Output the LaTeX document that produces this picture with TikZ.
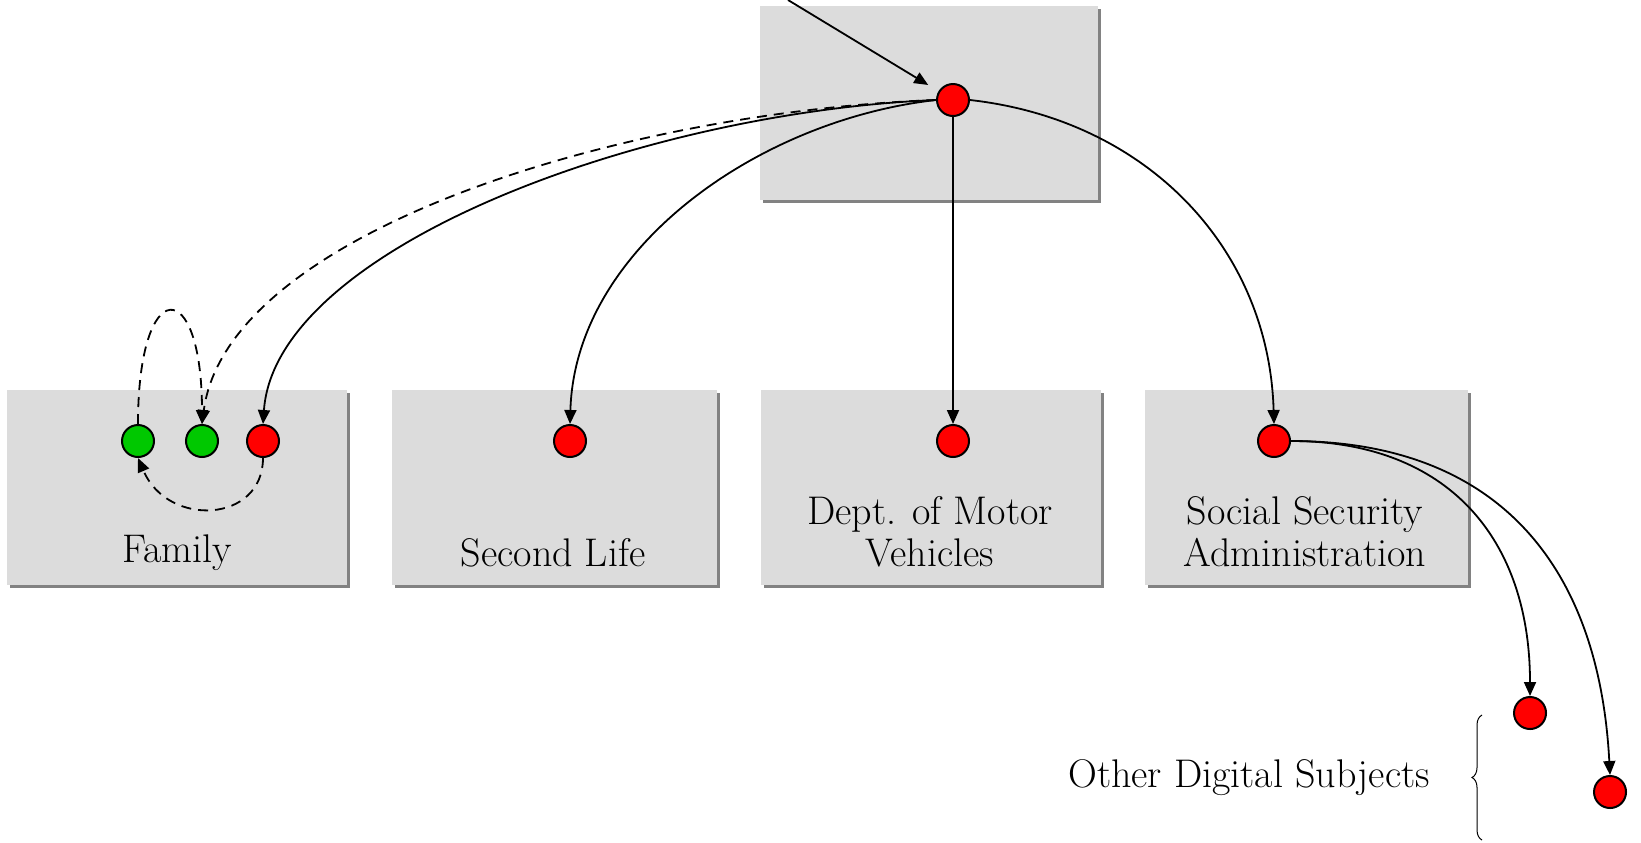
\documentclass[tikz,border=0pt]{standalone}
\usetikzlibrary{arrows.meta,shadows,decorations.pathreplacing}
\definecolor{boxgray}{RGB}{220,220,220}
\definecolor{shadowgray}{RGB}{130,130,130}
\definecolor{dotred}{RGB}{255,0,0}
\definecolor{dotgreen}{RGB}{0,200,0}
\begin{document}
\begin{tikzpicture}[x=0.5pt,y=-0.5pt,
  panel/.style={rectangle,fill=boxgray,draw=none,minimum height=97.5pt,
    drop shadow={shadow xshift=1.5pt,shadow yshift=-1.5pt,fill=shadowgray,opacity=1}},
  reddot/.style={circle,fill=dotred,draw=black,line width=1pt,minimum size=16pt,inner sep=0pt},
  greendot/.style={circle,fill=dotgreen,draw=black,line width=1pt,minimum size=16pt,inner sep=0pt},
  lbl/.style={font=\fontsize{20}{21}\selectfont,align=center,inner sep=0pt},
  arr/.style={line width=0.9pt,-{Triangle[length=7pt,width=6pt]}},
  dsh/.style={dash pattern=on 5pt off 3.5pt}]
\useasboundingbox (0,0) rectangle (1641,842);
% panels
\node[panel,minimum width=169pt,minimum height=97pt] (topbox) at (929,103) {};
\node[panel,minimum width=170pt] (fambox) at (177,487.5) {};
\node[panel,minimum width=162.5pt] (slbox) at (554.5,487.5) {};
\node[panel,minimum width=170pt] (dmvbox) at (931,487.5) {};
\node[panel,minimum width=161.5pt] (ssabox) at (1306.5,487.5) {};
% labels
\node[lbl] (famtxt) at (177,553) {Family};
\node[lbl] (sltxt) at (553,553) {Second Life};
\node[lbl] (dmvtxt) at (930,532) {Dept. of Motor\\Vehicles};
\node[lbl] (ssatxt) at (1305,532) {Social Security\\Administration};
\node[lbl] (othtxt) at (1249,778) {Other Digital Subjects};
% dots
\node[reddot] (top) at (953,100) {};
\node[greendot] (g1) at (138,441) {};
\node[greendot] (g2) at (202,441) {};
\node[reddot] (fr) at (263,441) {};
\node[reddot] (sl) at (570,441) {};
\node[reddot] (dmv) at (953,441) {};
\node[reddot] (ssa) at (1274,441) {};
\node[reddot] (o1) at (1530,713) {};
\node[reddot] (o2) at (1610,792) {};
% incoming
\coordinate (src) at (788,0);
\draw[arr,shorten >=6pt] (src) -- (top);
% from top
\draw[arr] (top.west) .. controls +(-178,20) and +(5,-175) .. (sl.north);
\draw[arr] (top.south) -- (dmv.north);
\draw[arr] (top.east) .. controls +(178,20) and +(-5,-175) .. (ssa.north);
\draw[arr] (top.west) .. controls +(-295,12) and +(12,-175) .. (fr.north);
\draw[arr,dsh] (top.west) .. controls +(-320,12) and +(25,-190) .. (g2.north);
% family internal
\draw[arr,dsh] (g1.north) .. controls +(0,-150) and +(0,-150) .. (g2.north);
\draw[arr,dsh] (fr.south) .. controls +(0,65) and +(30,70) .. (g1.south);
% SSA to others
\draw[arr] (ssa.east) to[out=0,in=90,looseness=1.15] (o1.north);
\draw[arr] (ssa.east) to[out=0,in=93,looseness=1.15] (o2.north);
% brace
\coordinate (bb) at (1482,840);
\coordinate (bt) at (1482,715);
\draw[decorate,decoration={brace,amplitude=5pt},line width=0.5pt] (bb) -- (bt);
\end{tikzpicture}
\end{document}
